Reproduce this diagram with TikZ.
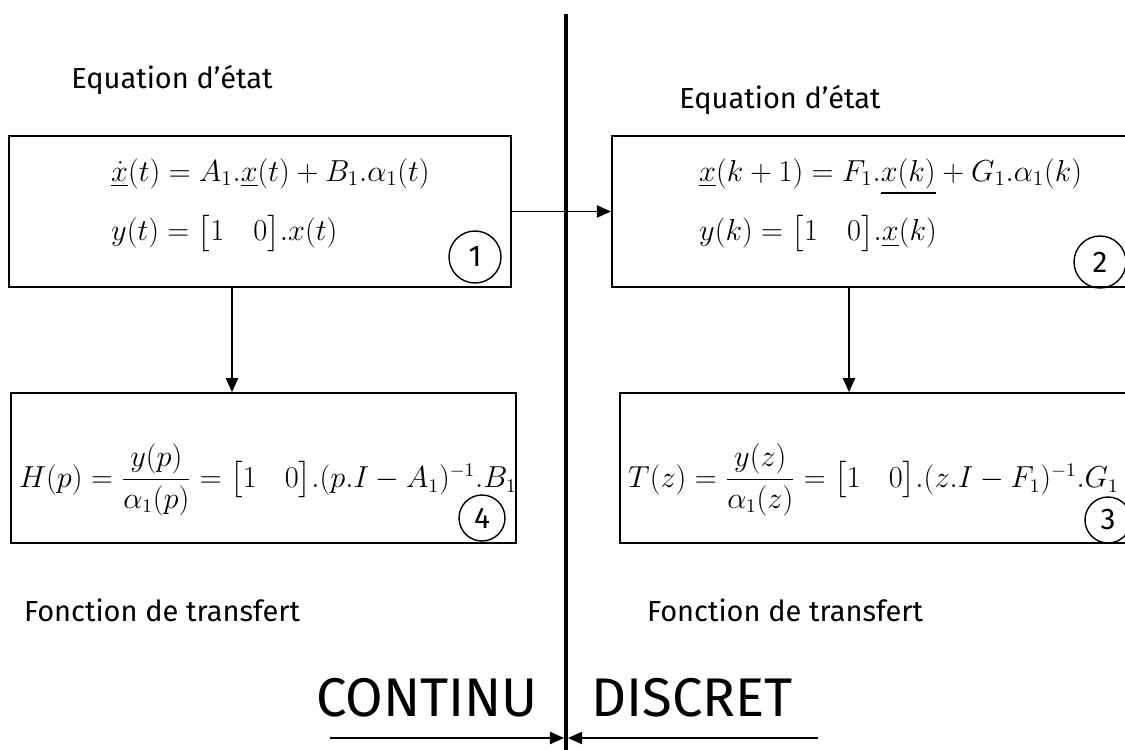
\documentclass[tikz,border=0pt]{standalone}
\usepackage{amsmath}
\usepackage{fontspec}
\setmainfont{Fira Sans}
\usetikzlibrary{arrows.meta}
\tikzset{
  bloc/.style={draw, line width=1pt, minimum height=3.02cm, inner sep=0pt},
  rond/.style={draw, circle, line width=0.8pt, minimum size=1cm, inner sep=0pt, font=\fontsize{17}{18}\selectfont},
  titre/.style={font=\fontsize{16.5}{18}\selectfont},
  grand/.style={font=\fontsize{31}{33}\selectfont},
  eq/.style={anchor=west, align=left, font=\fontsize{16.5}{34}\selectfont},
  fleche/.style={-{Triangle[length=8pt,width=7pt]}, line width=0.8pt}
}
\begin{document}
\begin{tikzpicture}
\useasboundingbox (0,0) rectangle (22.5,-14.98);
\clip (0,0) rectangle (22.5,-14.98);
\draw[line width=2.8pt] (11.32,-0.28) -- (11.32,-15);
\node[titre] (t1) at (3.44,-1.6) {Equation d'état};
\node[titre] (t2) at (15.6,-2.0) {Equation d'état};
\node[bloc, minimum width=10.04cm] (e1) at (5.2,-4.23) {};
\node[bloc, minimum width=10.47cm] (e2) at (17.47,-4.23) {};
\node[bloc, minimum width=10.1cm, minimum height=3cm] (tf1) at (5.27,-9.36) {};
\node[bloc, minimum width=10.3cm, minimum height=3cm] (tf2) at (17.55,-9.36) {};
\node[eq] (eq1) at (2.1,-4.1) {$\underline{\dot{x}}(t) = A_1.\underline{x}(t) + B_1.\alpha_1(t)$\\
$y(t) = \bigl[1\quad 0\bigr].x(t)$};
\node[eq] (eq2) at (13.86,-4.1) {$\underline{x}(k+1) = F_1.\underline{x(k)} + G_1.\alpha_1(k)$\\
$y(k) = \bigl[1\quad 0\bigr].\underline{x}(k)$};
\node[eq, font=\fontsize{16}{34}\selectfont] (eq4) at (0.26,-9.6) {$H(p) = \dfrac{y(p)}{\alpha_1(p)} = \bigl[1\quad 0\bigr].(p.I - A_1)^{-1}.B_1$};
\node[eq, font=\fontsize{16}{34}\selectfont] (eq3) at (12.44,-9.6) {$T(z) = \dfrac{y(z)}{\alpha_1(z)} = \bigl[1\quad 0\bigr].(z.I - F_1)^{-1}.G_1$};
\node[rond, minimum size=1.04cm] (n1) at (9.5,-5.14) {1};
\node[rond, minimum size=1.04cm] (n2) at (22.0,-5.24) {2};
\node[rond, minimum size=0.92cm] (n4) at (9.64,-10.36) {4};
\node[rond, minimum size=0.92cm] (n3) at (22.16,-10.4) {3};
\draw[fleche] (e1.east) -- (e2.west);
\draw[fleche] ([xshift=-0.56cm]e1.south) -- ([xshift=-0.56cm]e1.south |- tf1.north);
\draw[fleche] ([xshift=-0.49cm]e2.south) -- ([xshift=-0.49cm]e2.south |- tf2.north);
\node[titre] (f1) at (3.24,-12.2) {Fonction de transfert};
\node[titre] (f2) at (15.7,-12.2) {Fonction de transfert};
\node[grand] (c) at (8.54,-13.96) {CONTINU};
\node[grand] (d) at (13.84,-13.96) {DISCRET};
\coordinate (cg) at (6.6,-14.76);
\coordinate (cm) at (11.28,-14.76);
\coordinate (dd) at (16.36,-14.76);
\coordinate (dm) at (11.36,-14.76);
\draw[fleche] (cg) -- (cm);
\draw[fleche] (dd) -- (dm);
\end{tikzpicture}
\end{document}
